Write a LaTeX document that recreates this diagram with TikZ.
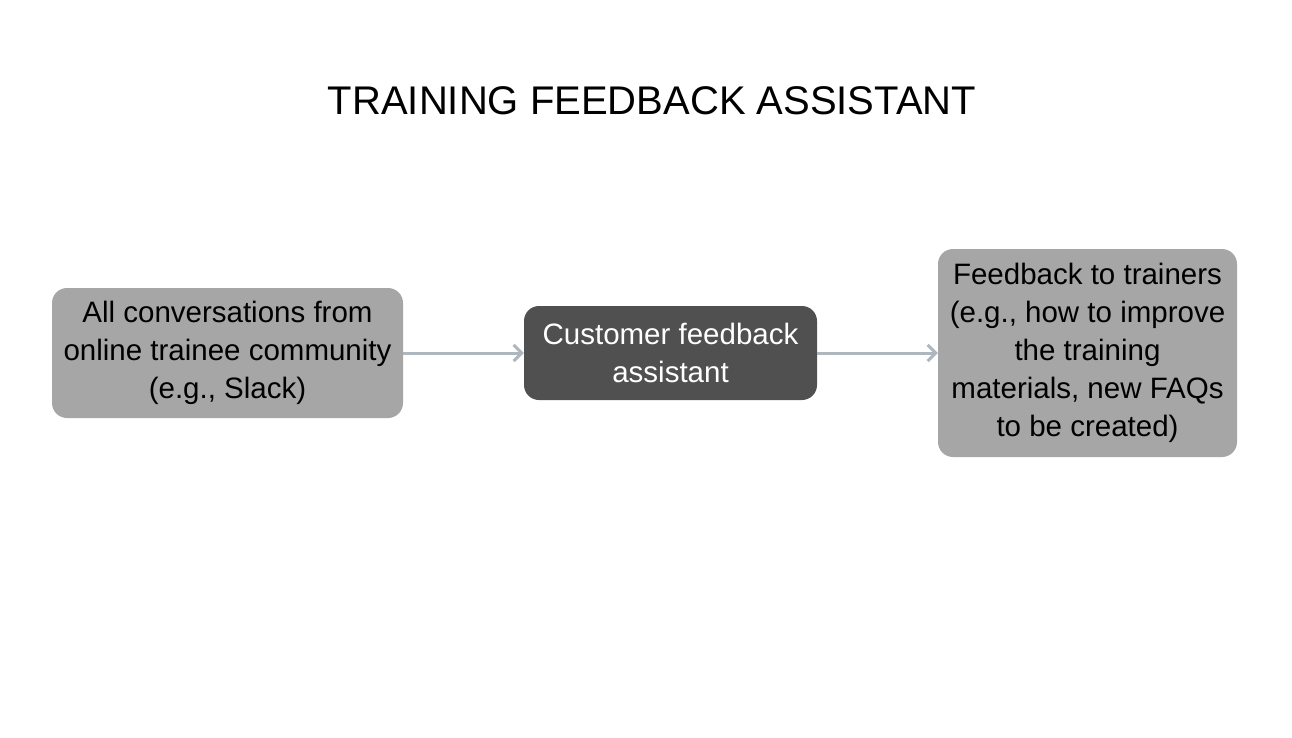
\documentclass[tikz,border=0pt]{standalone}
\usepackage{fontspec}
\setmainfont{Liberation Sans}
\usetikzlibrary{arrows.meta}
\definecolor{boxgray}{HTML}{A6A6A6}
\definecolor{boxdark}{HTML}{505050}
\definecolor{arrowcol}{HTML}{AEB6BE}
\tikzset{
  procbox/.style={rounded corners=15pt, inner sep=0pt, align=center,
    font=\fontsize{29.5}{38}\selectfont, text=black},
  flow/.style={draw=arrowcol, line width=3pt, -{Straight Barb[length=8pt,width=16pt,line width=3pt]}},
}
\begin{document}
\begin{tikzpicture}[x=1pt,y=-1pt]
\useasboundingbox[fill=white] (0,0) rectangle (1292,738);
\node[font=\fontsize{40}{44}\selectfont] (title) at (652,101) {TRAINING FEEDBACK ASSISTANT};
\node[procbox, fill=boxgray, minimum width=351pt, minimum height=130pt] (src) at (227.5,353)
  {All conversations from\\online trainee community\\(e.g., Slack)};
\node[procbox, fill=boxdark, text=white, minimum width=293pt, minimum height=94pt] (asst) at (670.5,353)
  {Customer feedback\\assistant};
\node[procbox, fill=boxgray, minimum width=299pt, minimum height=208pt] (out) at (1087.5,353)
  {Feedback to trainers\\(e.g., how to improve\\the training\\materials, new FAQs\\to be created)};
\draw[flow] (src.east) -- (asst.west);
\draw[flow] (asst.east) -- (out.west);
\end{tikzpicture}
\end{document}
